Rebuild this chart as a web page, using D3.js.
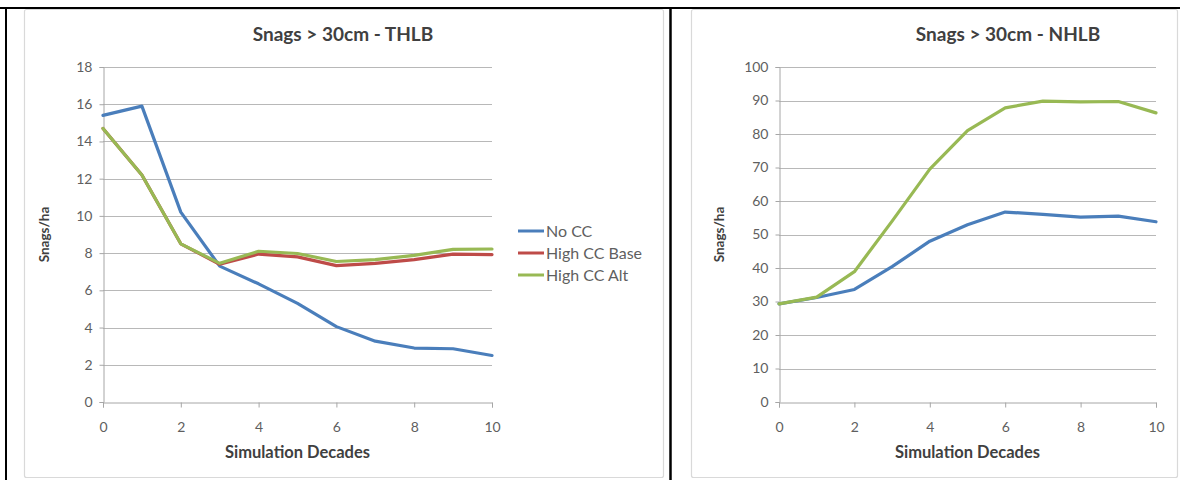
<!DOCTYPE html>
<html>
<head>
<meta charset="utf-8">
<script src="https://cdn.jsdelivr.net/npm/d3@7"></script>
<style>
  html, body { margin: 0; padding: 0; background: #fff; }
  svg { display: block; }
  text { font-family: Lato, "Open Sans", sans-serif; }
</style>
</head>
<body>
<svg id="chart" width="1180" height="480"></svg>
<script>
// ---- data ----
const decades = [0, 1, 2, 3, 4, 5, 6, 7, 8, 9, 10];
const xTicks = [0, 2, 4, 6, 8, 10];

const seriesNames = ["No CC", "High CC Base", "High CC Alt"];
const seriesColors = ["#4a7ebb", "#be4b48", "#98b954"];

// THLB (left)
const thlbNoCC    = [15.4, 15.9, 10.2, 7.3, 6.35, 5.3, 4.05, 3.27, 2.9, 2.86, 2.5];
const thlbCCBase  = [14.7, 12.2, 8.5, 7.4, 7.95, 7.8, 7.33, 7.45, 7.65, 7.95, 7.92];
const thlbCCAlt   = [14.7, 12.2, 8.5, 7.45, 8.1, 7.98, 7.55, 7.65, 7.88, 8.2, 8.22];
const thlbYTicks  = [0, 2, 4, 6, 8, 10, 12, 14, 16, 18];

// NHLB (right)
const nhlbNoCC    = [29.3, 31.2, 33.6, 40.4, 48.0, 52.9, 56.7, 56.0, 55.2, 55.5, 53.8];
const nhlbCCAlt   = [29.3, 31.3, 38.9, 54.0, 69.5, 81.0, 87.8, 89.8, 89.6, 89.7, 86.3];
const nhlbYTicks  = [0, 10, 20, 30, 40, 50, 60, 70, 80, 90, 100];

const titles = ["Snags > 30cm - THLB", "Snags > 30cm - NHLB"];
const xTitle = "Simulation Decades";
const yTitle = "Snags/ha";

// ---- drawing ----
const svg = d3.select("#chart");

// outer black borders
svg.append("line").attr("x1", 0).attr("x2", 1180).attr("y1", 8).attr("y2", 8)
  .attr("stroke", "#000").attr("stroke-width", 2);
svg.append("line").attr("x1", 6).attr("x2", 6).attr("y1", 7).attr("y2", 480)
  .attr("stroke", "#000").attr("stroke-width", 2);
svg.append("line").attr("x1", 670.5).attr("x2", 670.5).attr("y1", 7).attr("y2", 480)
  .attr("stroke", "#000").attr("stroke-width", 2.5);

// chart frames
svg.append("rect").attr("x", 24.5).attr("y", 9.5).attr("width", 639).attr("height", 468)
  .attr("fill", "#fff").attr("stroke", "#d9d9d9").attr("stroke-width", 1.2).attr("rx", 2);
svg.append("rect").attr("x", 691.5).attr("y", 9.5).attr("width", 486).attr("height", 468)
  .attr("fill", "#fff").attr("stroke", "#d9d9d9").attr("stroke-width", 1.2).attr("rx", 2);

function drawChart(cfg) {
  const x = d3.scaleLinear().domain([0, 10]).range([cfg.left, cfg.right]);
  const y = d3.scaleLinear().domain([0, cfg.yMax]).range([cfg.bottom, cfg.top]);
  const g = svg.append("g");

  // gridlines
  g.selectAll(".grid").data(cfg.yTicks.filter(d => d > 0)).join("line")
    .attr("x1", cfg.left).attr("x2", cfg.right)
    .attr("y1", d => Math.round(y(d)) + 0.5).attr("y2", d => Math.round(y(d)) + 0.5)
    .attr("stroke", "#b8b8b8").attr("stroke-width", 1);

  // y axis
  const yAxis = d3.axisLeft(y).tickValues(cfg.yTicks).tickSize(4).tickPadding(7)
    .tickFormat(d3.format("d"));
  const ya = g.append("g").attr("transform", `translate(${cfg.left + 0.5},0)`).call(yAxis);
  ya.select(".domain").attr("stroke", "#a6a6a6");
  ya.selectAll(".tick line").attr("stroke", "#a6a6a6");
  ya.selectAll(".tick text").attr("fill", "#5f5f5f").style("font-size", "14px")
    .style("font-family", "Lato, sans-serif");

  // x axis
  const xAxis = d3.axisBottom(x).tickValues(xTicks).tickSize(5).tickPadding(15)
    .tickFormat(d3.format("d"));
  const xa = g.append("g").attr("transform", `translate(0,${Math.round(cfg.bottom) + 0.5})`).call(xAxis);
  xa.select(".domain").attr("stroke", "#a6a6a6");
  xa.selectAll(".tick line").attr("stroke", "#a6a6a6");
  xa.selectAll(".tick text").attr("fill", "#5f5f5f").style("font-size", "14px")
    .style("font-family", "Lato, sans-serif");

  // lines
  const line = d3.line().x((d, i) => x(decades[i])).y(d => y(d));
  cfg.series.forEach(s => {
    g.append("path").datum(s.values)
      .attr("d", line).attr("fill", "none")
      .attr("stroke", s.color).attr("stroke-width", 3.2)
      .attr("stroke-linejoin", "round").attr("stroke-linecap", "round");
  });

  // titles
  g.append("text").attr("x", cfg.titleX).attr("y", 41).attr("text-anchor", "middle")
    .attr("fill", "#404040").style("font-size", "19px").style("font-weight", "bold")
    .text(cfg.title);
  g.append("text").attr("x", (cfg.left + cfg.right) / 2).attr("y", 458).attr("text-anchor", "middle")
    .attr("fill", "#404040").style("font-size", "16.5px").style("font-weight", "bold")
    .text(xTitle);
  g.append("text")
    .attr("transform", `translate(${cfg.yTitleX},${(cfg.top + cfg.bottom) / 2}) rotate(-90)`)
    .attr("text-anchor", "middle").attr("fill", "#404040")
    .style("font-size", "13.5px").style("font-weight", "bold")
    .text(yTitle);
}

drawChart({
  left: 103, right: 492, top: 67, bottom: 402, yMax: 18,
  yTicks: thlbYTicks, title: titles[0], titleX: 343, yTitleX: 49,
  series: [
    { values: thlbNoCC, color: seriesColors[0] },
    { values: thlbCCBase, color: seriesColors[1] },
    { values: thlbCCAlt, color: seriesColors[2] }
  ]
});

drawChart({
  left: 779, right: 1156, top: 67, bottom: 402, yMax: 100,
  yTicks: nhlbYTicks, title: titles[1], titleX: 1008, yTitleX: 724,
  series: [
    { values: nhlbNoCC, color: seriesColors[0] },
    { values: nhlbCCAlt, color: seriesColors[2] }
  ]
});

// legend
const legend = svg.append("g").attr("transform", "translate(518,231)");
const li = legend.selectAll("g").data(seriesNames).join("g")
  .attr("transform", (d, i) => `translate(0,${i * 22})`);
li.append("line").attr("x1", 0).attr("x2", 26).attr("y1", 0).attr("y2", 0)
  .attr("stroke", (d, i) => seriesColors[i]).attr("stroke-width", 3);
li.append("text").attr("x", 28).attr("y", 5.5).attr("fill", "#5f5f5f")
  .style("font-size", "16px").text(d => d);
</script>
</body>
</html>
